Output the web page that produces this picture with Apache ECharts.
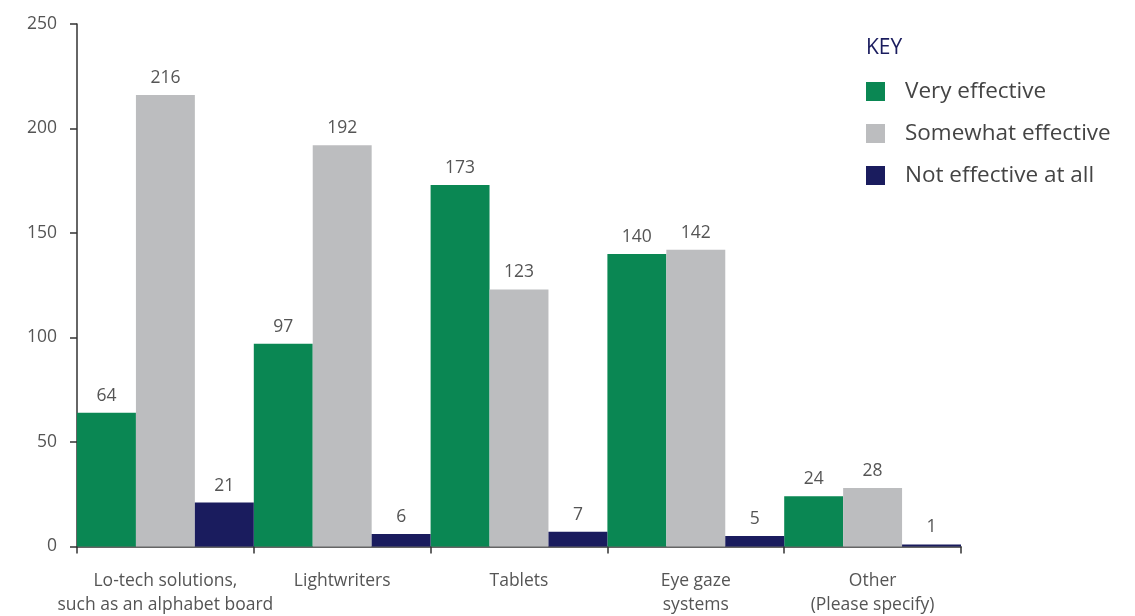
<!DOCTYPE html>
<html><head><meta charset="utf-8">
<script src="https://cdn.jsdelivr.net/npm/echarts@6/dist/echarts.min.js"></script>
<style>html,body{margin:0;padding:0;background:#fff}#c{width:1135px;height:616px}</style>
</head><body><div id="c"></div>
<script>
const categories = ["Lo-tech solutions,\nsuch as an alphabet board", "Lightwriters", "Tablets", "Eye gaze\nsystems", "Other\n(Please specify)"];
const seriesNames = ["Very effective", "Somewhat effective", "Not effective at all"];
const veryEffective = [64, 97, 173, 140, 24];
const somewhatEffective = [216, 192, 123, 142, 28];
const notEffective = [21, 6, 7, 5, 1];
const yTicks = [0, 50, 100, 150, 200, 250];
const colors = ["#0a8753", "#bcbdbf", "#1a1c5e"];

const font = "'Open Sans', 'Noto Sans', sans-serif";
const chart = echarts.init(document.getElementById('c'));
const mk = (name, data, color) => ({
  name, type: 'bar', data, barGap: '0%', barCategoryGap: '0%',
  itemStyle: { color },
  label: { show: true, position: 'top', distance: 8, color: '#555', fontSize: 17.5, fontFamily: font },
  emphasis: { disabled: true }
});
chart.setOption({
  animation: false,
  textStyle: { fontFamily: font },
  title: { text: 'KEY', left: 861, top: 33, textStyle: { color: '#1a1c5e', fontSize: 21, fontWeight: 'normal', fontFamily: font } },
  legend: {
    orient: 'vertical', left: 866, top: 80, padding: 0, itemWidth: 19, itemHeight: 19, itemGap: 19,
    icon: 'rect',
    textStyle: { color: '#444', fontSize: 22.5, fontFamily: font, padding: [0, 0, 0, 15] },
    data: seriesNames
  },
  grid: { left: 77, right: 174, top: 24, bottom: 69.5, containLabel: false, outerBoundsMode: 'none' },
  xAxis: {
    type: 'category', data: categories,
    axisLine: { lineStyle: { color: '#333', width: 1.5 } },
    axisTick: { show: true, length: 7, lineStyle: { color: '#333', width: 1.5 } },
    axisLabel: { color: '#555', fontSize: 17.5, lineHeight: 24, margin: 23, fontFamily: font, interval: 0 }
  },
  yAxis: {
    type: 'value', min: yTicks[0], max: yTicks[yTicks.length - 1], interval: 50,
    splitLine: { show: false },
    axisLine: { show: true, lineStyle: { color: '#333', width: 1.5 } },
    axisTick: { show: true, length: 7, lineStyle: { color: '#333', width: 1.5 } },
    axisLabel: { color: '#555', fontSize: 17.5, margin: 20, fontFamily: font }
  },
  series: [
    mk(seriesNames[0], veryEffective, colors[0]),
    mk(seriesNames[1], somewhatEffective, colors[1]),
    mk(seriesNames[2], notEffective, colors[2])
  ]
});
</script></body></html>
